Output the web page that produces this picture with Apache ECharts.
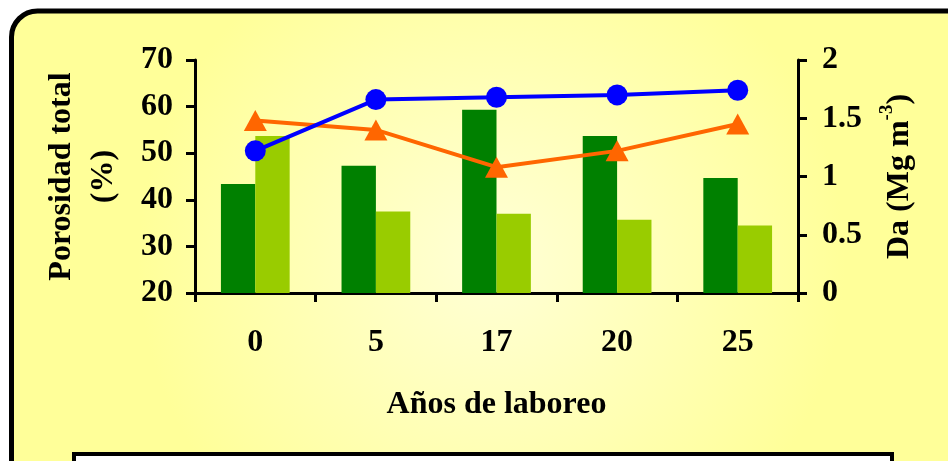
<!DOCTYPE html>
<html>
<head>
<meta charset="utf-8">
<script src="https://cdn.jsdelivr.net/npm/echarts@6/dist/echarts.min.js"></script>
<style>
html,body{margin:0;padding:0;background:#ffffff;}
#chart{width:948px;height:461px;}
</style>
</head>
<body>
<div id="chart"></div>
<script>
// Data
var years = ['0', '5', '17', '20', '25'];
var porosidadA = [43.4, 47.3, 59.3, 53.7, 44.7];   // dark green bars (left axis, %)
var porosidadB = [53.7, 37.5, 37.0, 35.7, 34.5];   // light green bars (left axis, %)
var daBlue = [1.22, 1.66, 1.68, 1.70, 1.74];       // blue line (right axis, Mg m-3)
var daOrange = [1.48, 1.40, 1.08, 1.22, 1.45];     // orange line (right axis, Mg m-3)
var leftTicks = {min: 20, max: 70, interval: 10};
var rightTicks = {min: 0, max: 2, interval: 0.5};

var FONT = 'Liberation Serif';
var txt = {fontFamily: FONT, fontWeight: 'bold', fontSize: 32, color: '#000'};

var chart = echarts.init(document.getElementById('chart'), null, {renderer: 'canvas'});

var option = {
  animation: false,
  backgroundColor: '#ffffff',
  graphic: [
    {
      type: 'rect', z: -10, silent: true,
      shape: {x: 11.5, y: 11, width: 960, height: 500, r: 26},
      style: {
        fill: new echarts.graphic.RadialGradient(0.5, 0.5, 0.7, [
          {offset: 0, color: '#FFFFD6'},
          {offset: 1, color: '#FFFF99'}
        ]),
        stroke: '#000', lineWidth: 5
      }
    },
    {
      type: 'rect', z: -5, silent: true,
      shape: {x: 74, y: 454, width: 818, height: 40},
      style: {fill: '#ffffff', stroke: '#000', lineWidth: 4}
    }
  ],
  grid: {left: 195, right: 150, top: 60, bottom: 168, containLabel: false},
  xAxis: {
    type: 'category',
    data: years,
    boundaryGap: true,
    name: 'Años de laboreo',
    nameLocation: 'middle',
    nameGap: 96,
    nameTextStyle: txt,
    axisLine: {lineStyle: {color: '#000', width: 3}},
    axisTick: {show: true, length: 9, lineStyle: {color: '#000', width: 3}},
    axisLabel: Object.assign({margin: 34}, txt),
    splitLine: {show: false}
  },
  yAxis: [
    {
      type: 'value',
      min: leftTicks.min, max: leftTicks.max, interval: leftTicks.interval,
      name: 'Porosidad total\n(%)',
      nameLocation: 'middle',
      nameRotate: 90,
      nameGap: 70,
      nameTextStyle: Object.assign({lineHeight: 42}, txt),
      axisLine: {show: true, lineStyle: {color: '#000', width: 3}},
      axisTick: {show: true, length: 9, lineStyle: {color: '#000', width: 3}},
      axisLabel: Object.assign({margin: 22}, txt),
      splitLine: {show: false}
    },
    {
      type: 'value',
      position: 'right',
      min: rightTicks.min, max: rightTicks.max, interval: rightTicks.interval,
      name: '{a|Da (Mg m}{s|-3}{a|)}',
      nameLocation: 'middle',
      nameRotate: 90,
      nameGap: 80,
      nameTextStyle: {
        rich: {
          a: {fontFamily: FONT, fontWeight: 'bold', fontSize: 32, color: '#000', lineHeight: 44},
          s: {fontFamily: FONT, fontWeight: 'bold', fontSize: 19, color: '#000', lineHeight: 44, verticalAlign: 'top'}
        }
      },
      axisLine: {show: true, lineStyle: {color: '#000', width: 3}},
      axisTick: {show: true, length: 9, lineStyle: {color: '#000', width: 3}},
      axisLabel: Object.assign({margin: 24}, txt),
      splitLine: {show: false}
    }
  ],
  series: [
    {
      type: 'bar', name: 'Porosidad A', yAxisIndex: 0,
      data: porosidadA,
      itemStyle: {color: '#008000'},
      barGap: '0%', barCategoryGap: '43%'
    },
    {
      type: 'bar', name: 'Porosidad B', yAxisIndex: 0,
      data: porosidadB,
      itemStyle: {color: '#99CC00'},
      barGap: '0%', barCategoryGap: '43%'
    },
    {
      type: 'line', name: 'Da B', yAxisIndex: 1,
      data: daOrange,
      symbol: 'triangle', symbolSize: [23, 21],
      lineStyle: {color: '#FF6600', width: 4},
      itemStyle: {color: '#FF6600'}
    },
    {
      type: 'line', name: 'Da A', yAxisIndex: 1,
      data: daBlue,
      symbol: 'circle', symbolSize: 21,
      lineStyle: {color: '#0000FF', width: 4},
      itemStyle: {color: '#0000FF'}
    }
  ]
};
chart.setOption(option);
</script>
</body>
</html>
